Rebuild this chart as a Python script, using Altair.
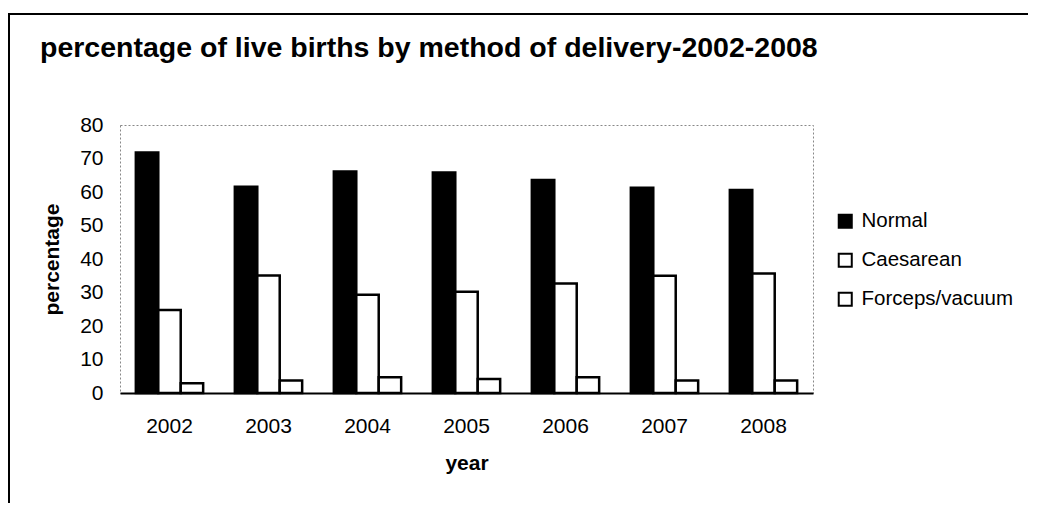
import altair as alt
import pandas as pd

years = ["2002", "2003", "2004", "2005", "2006", "2007", "2008"]
methods = ["Normal", "Caesarean", "Forceps/vacuum"]
normal = [71.8, 61.6, 66.1, 65.8, 63.6, 61.3, 60.6]
caesarean = [24.8, 35.1, 29.3, 30.2, 32.7, 35.0, 35.7]
forceps = [2.9, 3.7, 4.7, 4.2, 4.7, 3.7, 3.7]
title_text = "percentage of live births by method of delivery-2002-2008"

rows = []
for i, y in enumerate(years):
    for m, vals in zip(methods, [normal, caesarean, forceps]):
        rows.append({"year": y, "method": m, "percentage": vals[i]})
df = pd.DataFrame(rows)

FONT = "Liberation Sans"

bars = alt.Chart(df).mark_bar(stroke="black", strokeWidth=2.5).encode(
    x=alt.X("year:N", sort=years,
            scale=alt.Scale(paddingInner=0.32, paddingOuter=0.16),
            axis=alt.Axis(title="year", labelAngle=0, ticks=False, labelPadding=22,
                          labelFontSize=21, labelFont=FONT, labelColor="black",
                          titleFont=FONT, titleFontSize=21, titleFontWeight="bold",
                          titleColor="black", titlePadding=16,
                          domain=True, domainColor="black", domainWidth=2)),
    xOffset=alt.XOffset("method:N", sort=methods, scale=alt.Scale(paddingInner=0, paddingOuter=0)),
    y=alt.Y("percentage:Q",
            scale=alt.Scale(domain=[0, 80], nice=False),
            axis=alt.Axis(title="percentage", values=[0, 10, 20, 30, 40, 50, 60, 70, 80],
                          grid=False, ticks=False, domain=False, labelPadding=17,
                          labelFontSize=21, labelFont=FONT, labelColor="black",
                          titleFont=FONT, titleFontSize=21, titleFontWeight="bold",
                          titleColor="black", titlePadding=17)),
    color=alt.Color("method:N", sort=methods,
                    scale=alt.Scale(domain=methods, range=["black", "white", "white"]),
                    legend=alt.Legend(title=None, orient="none", legendX=715, legendY=86,
                                      symbolType="square", symbolSize=170,
                                      symbolStrokeColor="black", symbolStrokeWidth=2,
                                      labelFont=FONT, labelFontSize=20.5, labelColor="black",
                                      rowPadding=17, labelOffset=6)),
)

frame_df = pd.DataFrame({"a": [0]})
top_line = alt.Chart(frame_df).mark_rule(color="black", strokeWidth=2).encode(
    x=alt.value(-112), x2=alt.value(920), y=alt.value(-111))
left_line = alt.Chart(frame_df).mark_rule(color="black", strokeWidth=2).encode(
    x=alt.value(-111), y=alt.value(-111), y2=alt.value(400))
title = alt.Chart(pd.DataFrame({"t": [title_text]})).mark_text(
    align="left", baseline="middle", font=FONT, fontSize=28.5, fontWeight="bold", color="black"
).encode(text="t:N", x=alt.value(-80), y=alt.value(-77))

chart = alt.layer(bars, top_line, left_line, title).properties(
    width=693, height=268,
    autosize=alt.AutoSizeParams(type="none"),
    padding={"left": 112, "top": 117, "right": 215, "bottom": 110},
).configure_view(stroke="#888888", strokeDash=[2, 2], strokeWidth=1)

chart.save("out.html", embed_options={"renderer": "svg", "actions": False})
